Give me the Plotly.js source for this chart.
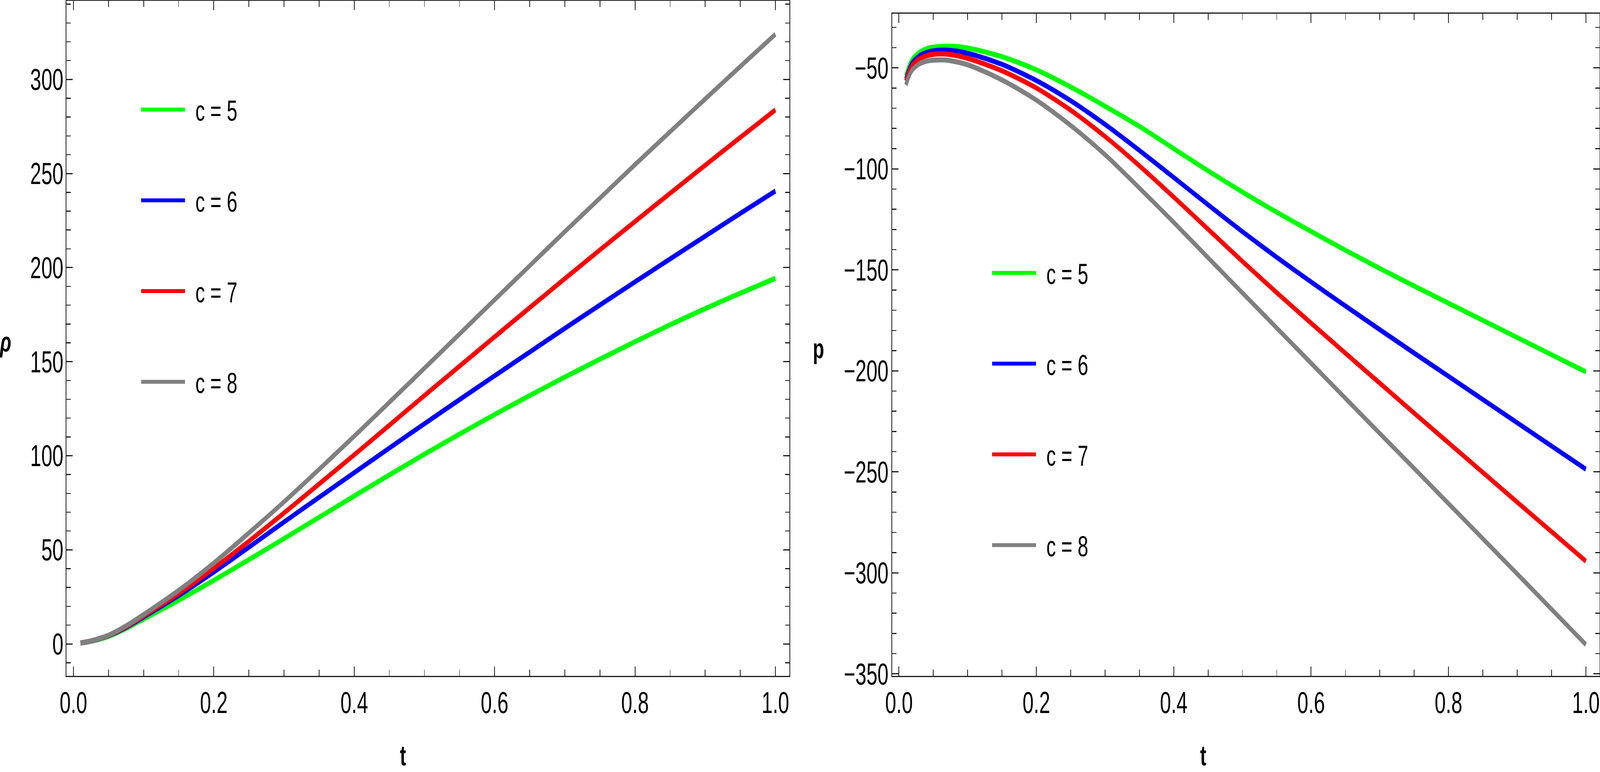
<!DOCTYPE html>
<html>
<head>
<meta charset="utf-8">
<script src="https://cdn.plot.ly/plotly-3.0.1.min.js"></script>
<style>
  html, body { margin: 0; padding: 0; background: #ffffff; overflow: hidden; }
  #chart { width: 6201px; height: 1976px; transform-origin: 0 0; }
</style>
</head>
<body>
<div id="chart"></div>
<script>
// left panel: energy density rho(t)
var tRho = [0.01, 0.025, 0.05, 0.075, 0.1, 0.15, 0.2, 0.25, 0.3, 0.35, 0.4, 0.45, 0.5,
            0.55, 0.6, 0.65, 0.7, 0.75, 0.8, 0.85, 0.9, 0.95, 1.0];
var rhoC5 = [0.5, 1.4, 4.0, 8.2, 13.2, 23.2, 33.8, 44.8, 56.0, 67.3, 78.6, 89.8, 100.8,
             111.5, 121.9, 132.0, 141.8, 151.3, 160.6, 169.6, 178.2, 186.4, 194.3];
var rhoC6 = [0.5, 1.5, 4.4, 8.8, 14.3, 25.7, 38.2, 51.4, 64.8, 77.9, 91.0, 104.1, 117.0,
             129.8, 142.5, 155.1, 167.7, 180.1, 192.4, 204.6, 216.7, 228.8, 240.7];
var rhoC7 = [0.5, 1.55, 4.5, 9.2, 14.9, 26.8, 40.2, 54.6, 69.6, 85.0, 100.5, 116.2, 132.0,
             147.6, 163.2, 178.7, 194.1, 209.4, 224.5, 239.5, 254.4, 269.2, 283.8];
var rhoC8 = [0.5, 1.6, 4.6, 9.6, 15.6, 28.5, 43.0, 59.0, 75.5, 92.8, 110.4, 128.4, 146.5,
             164.7, 182.9, 201.0, 219.1, 236.9, 254.7, 272.2, 289.6, 306.9, 324.0];

// right panel: pressure p(t)
var tP = [0.01, 0.015, 0.02, 0.03, 0.04, 0.05, 0.07, 0.1, 0.15, 0.2, 0.25, 0.3, 0.35,
          0.4, 0.45, 0.5, 0.55, 0.6, 0.65, 0.7, 0.75, 0.8, 0.85, 0.9, 0.95, 1.0];
var pC5 = [-54.0, -49.0, -45.5, -42.3, -40.6, -39.8, -39.3, -40.2, -44.5, -51.0, -59.5, -69.0, -79.0,
           -90.0, -101.0, -111.5, -121.5, -131.0, -140.3, -149.3, -158.0, -166.5, -175.0, -183.5, -192.0, -200.5];
var pC6 = [-55.5, -50.5, -47.2, -44.0, -42.4, -41.6, -41.3, -42.8, -48.3, -56.3, -66.3, -78.0, -90.9,
           -104.3, -117.8, -131.1, -143.8, -156.0, -167.9, -179.6, -191.2, -202.7, -214.2, -225.7, -237.2, -248.7];
var pC7 = [-56.5, -51.7, -48.5, -45.5, -44.0, -43.3, -43.2, -45.3, -51.5, -60.0, -71.0, -84.0, -98.5,
           -114.0, -129.9, -145.8, -161.3, -176.4, -191.3, -206.1, -220.9, -235.6, -250.3, -265.0, -279.6, -294.2];
var pC8 = [-58.5, -53.8, -50.8, -48.0, -46.7, -46.2, -46.2, -48.5, -56.0, -66.0, -78.5, -93.0, -109.5,
           -126.5, -144.0, -161.4, -178.8, -196.2, -213.6, -231.0, -248.3, -265.7, -283.1, -300.5, -318.0, -335.5];

var seriesNames = ['c = 5', 'c = 6', 'c = 7', 'c = 8'];
var seriesColors = ['#00ff00', '#0000ff', '#ff0000', '#808080'];
var xTickVals = [0, 0.2, 0.4, 0.6, 0.8, 1.0];
var rhoTickVals = [0, 50, 100, 150, 200, 250, 300];
var pTickVals = [-350, -300, -250, -200, -150, -100, -50];

var FONT = 'Liberation Sans, Arial, sans-serif';
var FULL_W = 6201, FULL_H = 1976;

// the window may be narrower than the chart: squeeze the whole drawing into it
var chartDiv = document.getElementById('chart');
var sx = window.innerWidth / FULL_W, sy = window.innerHeight / FULL_H;
chartDiv.style.transform = 'scale(' + sx + ',' + sy + ')';

var rhoSeries = [rhoC5, rhoC6, rhoC7, rhoC8];
var pSeries = [pC5, pC6, pC7, pC8];
var traces = [];
var gap = '\u00a0\u2009';

rhoSeries.forEach(function(ys, i) {
    traces.push({
        x: tRho, y: ys, xaxis: 'x', yaxis: 'y',
        type: 'scatter', mode: 'lines', name: gap + seriesNames[i],
        legend: 'legend', legendgroup: 'L' + i,
        line: { color: seriesColors[i], width: 13, shape: 'spline', smoothing: 0.8 }
    });
});
pSeries.forEach(function(ys, i) {
    traces.push({
        x: tP, y: ys, xaxis: 'x2', yaxis: 'y2',
        type: 'scatter', mode: 'lines', name: gap + seriesNames[i],
        legend: 'legend2', legendgroup: 'R' + i,
        line: { color: seriesColors[i], width: 13, shape: 'spline', smoothing: 0.8 }
    });
});

// frame with ticks inside on all four sides
function frameAxis(extra, minorStep) {
    var ax = {
        showline: true, linecolor: '#1a1a1a', linewidth: 3, mirror: 'ticks',
        ticks: 'inside', ticklen: 24, tickwidth: 3, tickcolor: '#1a1a1a',
        showgrid: false, zeroline: false,
        tickfont: { family: FONT, size: 77, color: '#000000' },
        tickmode: 'array', ticklabelstandoff: 0,
        minor: { ticks: 'inside', ticklen: 16, tickwidth: 2.5, tickcolor: '#1a1a1a', dtick: minorStep, tick0: 0, showgrid: false }
    };
    for (var k in extra) ax[k] = extra[k];
    return ax;
}

function legendStyle(x, y) {
    return {
        x: x, y: y, xanchor: 'left', yanchor: 'top',
        bgcolor: 'rgba(0,0,0,0)', borderwidth: 0,
        font: { family: FONT, size: 74, color: '#000000' },
        itemwidth: 170, tracegroupgap: 133, traceorder: 'grouped'
    };
}

function axisLabel(text, px, py, anchor) {
    return { text: text, xref: 'paper', yref: 'paper', x: px / FULL_W, y: 1 - py / FULL_H,
             showarrow: false, xanchor: 'center', yanchor: anchor || 'middle',
             font: { family: FONT, size: 72, color: '#000000' } };
}

var layout = {
    width: FULL_W, height: FULL_H,
    margin: { t: 0, r: 0, b: 0, l: 0 },
    paper_bgcolor: '#ffffff', plot_bgcolor: '#ffffff',
    showlegend: true,
    xaxis: frameAxis({ domain: [258 / FULL_W, 3059 / FULL_W], range: [-0.0098, 1.0198], anchor: 'y',
                       tickvals: xTickVals, tickformat: '.1f' }, 0.05),
    yaxis: frameAxis({ domain: [246 / FULL_H, 1974 / FULL_H], range: [-17, 341.8], anchor: 'x',
                       tickvals: rhoTickVals, ticklabelstandoff: -6 }, 10),
    xaxis2: frameAxis({ domain: [3458 / FULL_W, 6199 / FULL_W], range: [-0.0098, 1.0198], anchor: 'y2',
                        tickvals: xTickVals, tickformat: '.1f' }, 0.05),
    yaxis2: frameAxis({ domain: [246 / FULL_H, 1941 / FULL_H], range: [-351, -23.2], anchor: 'x2',
                        tickvals: pTickVals, ticklabelstandoff: -4 }, 10),
    legend: legendStyle(542 / FULL_W, 1 - 226 / FULL_H),
    legend2: legendStyle(3840 / FULL_W, 1 - 644 / FULL_H),
    annotations: [
        axisLabel('<b><i>ρ</i></b>', 21, 875),
        axisLabel('<b>t</b>', 1562, FULL_H, 'bottom'),
        axisLabel('<b>p</b>', 3172, 892),
        axisLabel('<b>t</b>', 4663, FULL_H, 'bottom')
    ]
};

Plotly.newPlot('chart', traces, layout, { displayModeBar: false, staticPlot: true });
</script>
</body>
</html>
